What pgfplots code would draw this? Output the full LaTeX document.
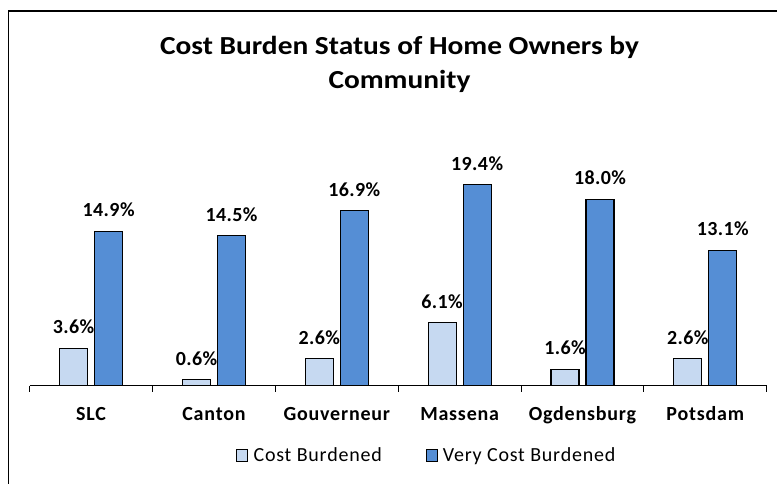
\documentclass[border=0pt]{standalone}
\usepackage{graphicx}
\usepackage{pgfplots}
\pgfplotsset{compat=1.18}
\usepackage{fontspec}
\setmainfont{Carlito}
\definecolor{lightb}{HTML}{C6D9F1}
\definecolor{darkb}{HTML}{558ED5}
\begin{document}
\begin{tikzpicture}[x=1pt,y=1pt]
\path[use as bounding box] (0,0) rectangle (777,483);
\draw[line width=1.3pt] (8.5,-10) -- (8.5,472) -- (790,472);
\node[font=\fontsize{26}{32}\selectfont\bfseries, anchor=base, inner sep=0pt] at (399.5,428) {\scalebox{1.13}[1]{Cost Burden Status of Home Owners by}};
\node[font=\fontsize{26}{32}\selectfont\bfseries, anchor=base, inner sep=0pt] at (399.5,394) {\scalebox{1.13}[1]{Community}};
\begin{axis}[
  at={(24.2,94)}, anchor=south west,
  scale only axis, width=737pt, height=207pt,
  ymin=0, ymax=20, xmin=-0.5, xmax=5.5,
  clip=false,
  axis y line=none,
  axis x line*=bottom,
  axis line style={line width=1.3pt, black},
  xtick={-0.5,0.5,...,5.5},
  x tick label as interval,
  xticklabels={SLC,Canton,Gouverneur,Massena,Ogdensburg,Potsdam},
  xticklabel style={font=\fontsize{20}{24}\selectfont\bfseries\addfontfeature{LetterSpace=4}, anchor=base, yshift=-29pt, inner sep=0pt},
  major tick length=6pt,
  tick align=inside,
  tick style={line width=1pt, black},
  /pgf/number format/assume math mode=true,
  ybar,
  bar width=28pt,
  nodes near coords={\pgfmathprintnumber[fixed,fixed zerofill,precision=1,assume math mode=true]{\pgfplotspointmeta}\%},
  every node near coord/.append style={font=\fontsize{20}{24}\selectfont\bfseries\addfontfeature{LetterSpace=2}, anchor=base, yshift=14.5pt, inner sep=0pt, black},
  legend columns=2,
  legend style={at={(0.279,-0.338)}, anchor=west, draw=none, fill=none, inner sep=0pt,
    font=\fontsize{20}{24}\selectfont\addfontfeature{LetterSpace=4},
    nodes={inner sep=0pt, anchor=west},
    /tikz/every even column/.append style={column sep=44pt}},
]
\addplot[fill=lightb, draw=black, line width=1.1pt, bar shift=-17.5pt, forget plot]
  coordinates {(0,3.6) (1,0.6) (2,2.6) (3,6.1) (4,1.6) (5,2.6)};
\addplot[fill=darkb, draw=black, line width=1.1pt, bar shift=17.5pt, forget plot]
  coordinates {(0,14.9) (1,14.5) (2,16.9) (3,19.4) (4,18.0) (5,13.1)};
\addlegendimage{legend image code/.code={\draw[fill=lightb,draw=black,line width=1pt] (0pt,-6pt) rectangle (11pt,6pt);}}
\addlegendentry{\hspace{6pt}Cost Burdened}
\addlegendimage{legend image code/.code={\draw[fill=darkb,draw=black,line width=1pt] (0pt,-6pt) rectangle (11pt,6pt);}}
\addlegendentry{\hspace{5pt}Very Cost Burdened}
\end{axis}
\end{tikzpicture}
\end{document}
